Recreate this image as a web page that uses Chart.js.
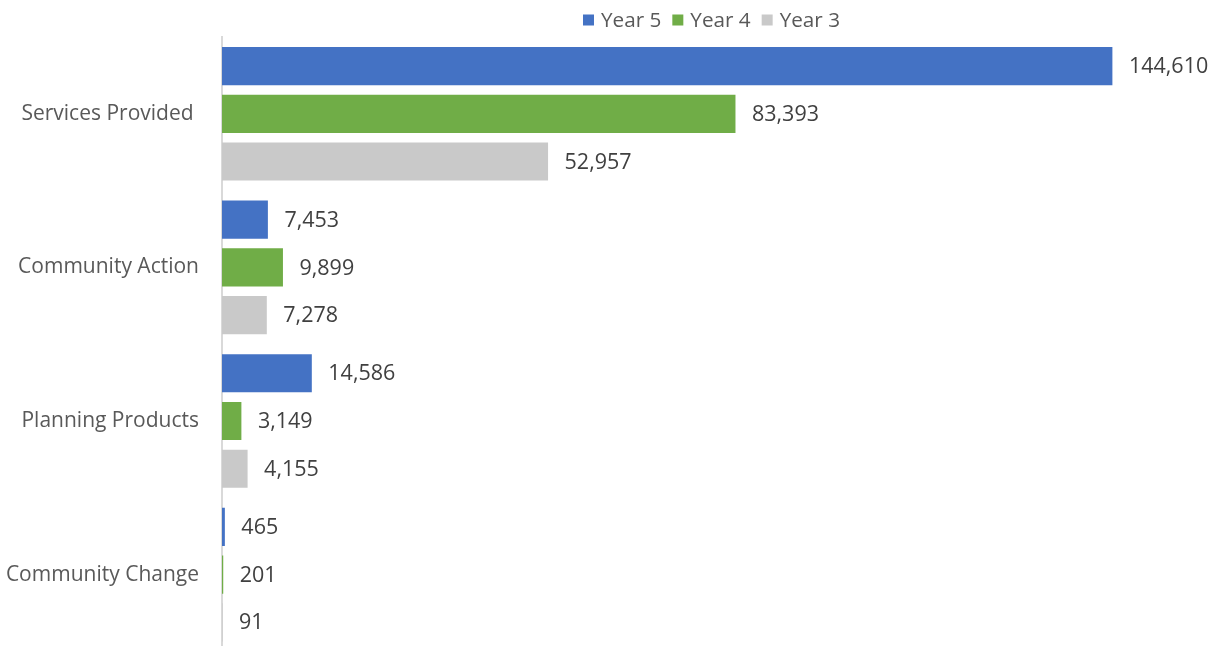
<!DOCTYPE html>
<html>
<head>
<meta charset="utf-8">
<script src="https://cdn.jsdelivr.net/npm/chart.js@4.4.0/dist/chart.umd.min.js"></script>
<style>
  html, body { margin: 0; padding: 0; background: #fff; overflow: hidden; }
  /* taller than the window: the bottom band is cut off like in the original */
  #wrap { position: relative; width: 1219px; height: 664px; }
</style>
</head>
<body>
<div id="wrap"><canvas id="chart"></canvas></div>
<script>
const CATEGORIES = ["Services Provided ", "Community Action", "Planning Products", "Community Change"];
const SERIES_NAMES = ["Year 5", "Year 4", "Year 3"];
const YEAR5 = [144610, 7453, 14586, 465];
const YEAR4 = [83393, 9899, 3149, 201];
const YEAR3 = [52957, 7278, 4155, 91];

const COLORS = ["#4472C4", "#70AD47", "#C9C9C9"];
const FONT = "'Open Sans', 'Noto Sans', sans-serif";
const TEXT = "#595959";
const LABEL = "#404040";

// value labels to the right of each bar
const barLabels = {
  id: "barLabels",
  afterDatasetsDraw(chart) {
    const ctx = chart.ctx;
    ctx.save();
    ctx.font = "21.5px " + FONT;
    ctx.fillStyle = LABEL;
    ctx.textAlign = "left";
    ctx.textBaseline = "middle";
    chart.data.datasets.forEach((ds, i) => {
      chart.getDatasetMeta(i).data.forEach((bar, j) => {
        ctx.fillText(ds.data[j].toLocaleString("en-US"), bar.x + 16.5, bar.y + 1);
      });
    });
    ctx.restore();
  },
};

// legend centred over the plot area, like the spreadsheet one
const topLegend = {
  id: "topLegend",
  afterDraw(chart) {
    const ctx = chart.ctx;
    const box = 11, gap = 7, spacing = 11;
    ctx.save();
    ctx.font = "20.7px " + FONT;
    const items = chart.data.datasets.map((ds) => ({
      text: ds.label,
      color: ds.backgroundColor,
      w: box + gap + ctx.measureText(ds.label).width,
    }));
    const total = items.reduce((s, it) => s + it.w, 0) + spacing * (items.length - 1);
    const area = chart.chartArea;
    let x = (area.left + area.right) / 2 - total / 2;
    const y = 20;
    ctx.textBaseline = "middle";
    items.forEach((it) => {
      ctx.fillStyle = it.color;
      ctx.fillRect(x, y - box / 2, box, box);
      ctx.fillStyle = TEXT;
      ctx.fillText(it.text, x + box + gap, y + 1);
      x += it.w + spacing;
    });
    ctx.restore();
  },
};

new Chart(document.getElementById("chart").getContext("2d"), {
  type: "bar",
  data: {
    labels: CATEGORIES,
    datasets: [YEAR5, YEAR4, YEAR3].map((values, i) => ({
      label: SERIES_NAMES[i],
      data: values,
      backgroundColor: COLORS[i],
      borderWidth: 0,
      barPercentage: 0.8,
      categoryPercentage: 0.932,
    })),
  },
  options: {
    indexAxis: "y",
    responsive: true,
    maintainAspectRatio: false,
    animation: false,
    layout: { padding: { top: 37, right: 18, bottom: 0, left: 0 } },
    plugins: {
      legend: { display: false },
      tooltip: { enabled: false },
    },
    scales: {
      x: {
        display: false,
        min: 0,
        max: 159000,
      },
      y: {
        afterFit: (scale) => { scale.width = 222; },
        ticks: {
          color: TEXT,
          font: { family: FONT, size: 21 },
          padding: 0,
        },
        // tick marks hidden, their length only pushes the labels off the axis
        grid: { display: false, drawTicks: true, tickLength: 23 },
        border: { display: true, color: "#D9D9D9", width: 2 },
      },
    },
  },
  plugins: [barLabels, topLegend],
});
</script>
</body>
</html>
